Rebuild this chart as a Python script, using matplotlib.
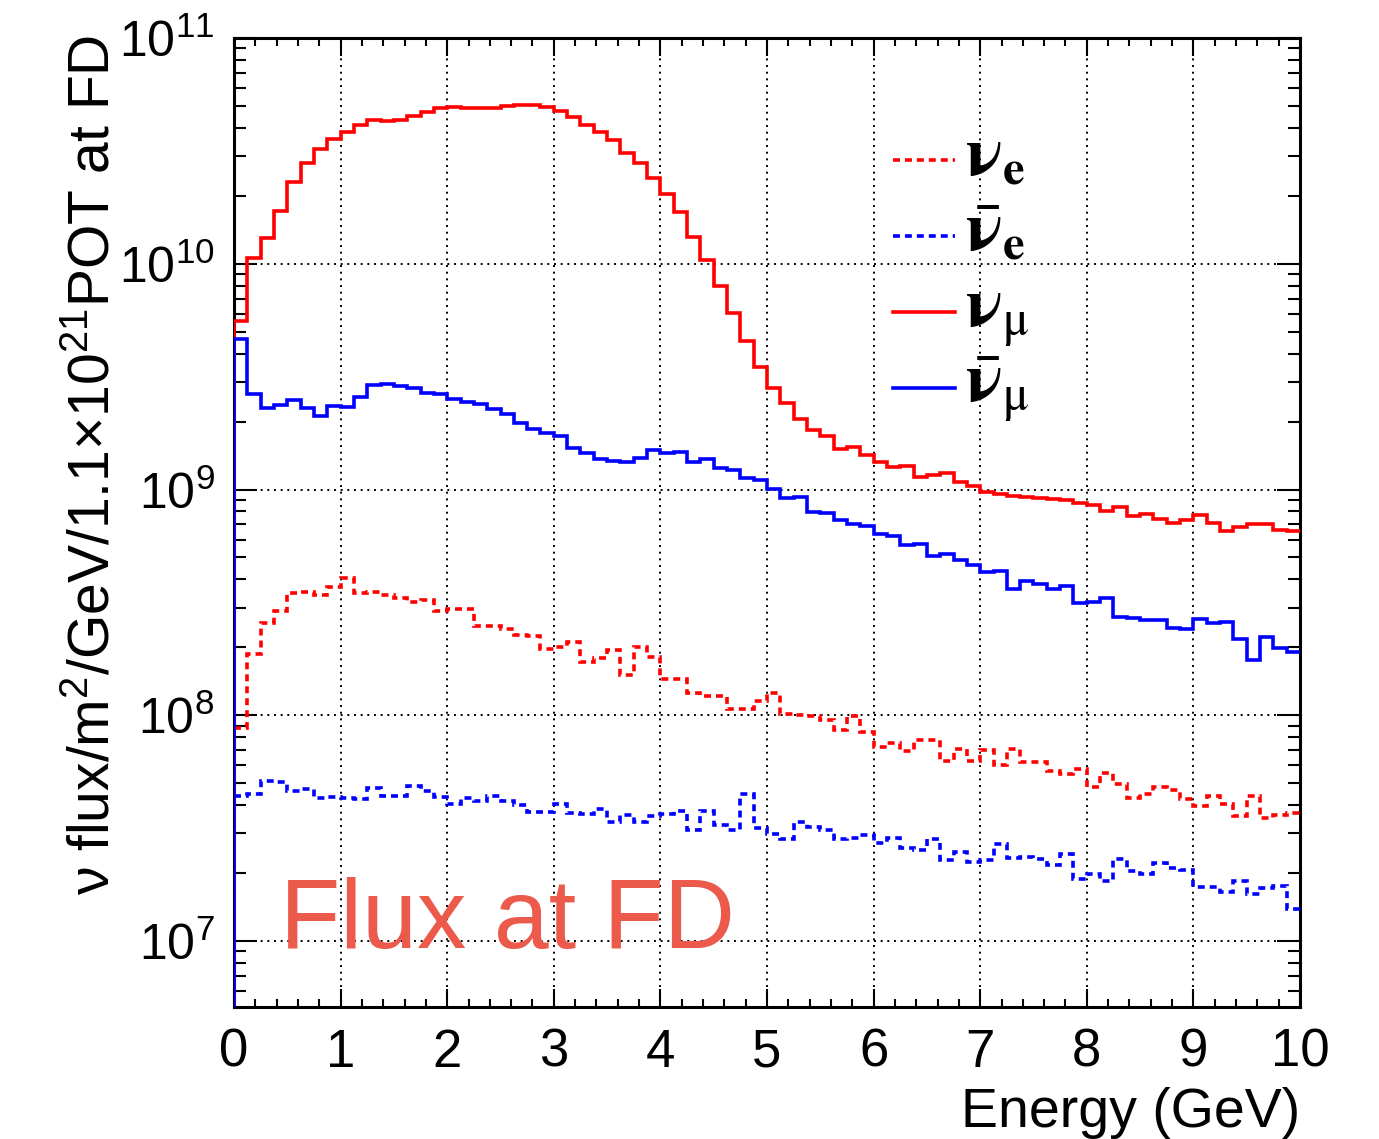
import numpy as np
import matplotlib
matplotlib.use('Agg')
import matplotlib.pyplot as plt
from matplotlib.lines import Line2D
from matplotlib.ticker import LogLocator, MultipleLocator, LogFormatterMathtext, NullFormatter

plt.rcParams['font.family'] = ['Liberation Sans', 'DejaVu Sans']
plt.rcParams['mathtext.fontset'] = 'custom'
plt.rcParams['mathtext.rm'] = 'Liberation Sans'
plt.rcParams['mathtext.it'] = 'Liberation Sans:italic'
plt.rcParams['mathtext.bf'] = 'Liberation Sans:bold'
plt.rcParams['lines.scale_dashes'] = False

# 80 bins of 0.125 GeV from 0 to 10 GeV
edges = np.linspace(0, 10, 81)

numu = [5.55e9, 1.06e10, 1.30e10, 1.71e10, 2.30e10, 2.79e10, 3.22e10, 3.57e10,
        3.82e10, 4.13e10, 4.33e10, 4.29e10, 4.32e10, 4.50e10, 4.68e10, 4.88e10,
        4.94e10, 4.91e10, 4.88e10, 4.91e10, 4.99e10, 5.04e10, 5.04e10, 4.94e10,
        4.76e10, 4.47e10, 4.13e10, 3.82e10, 3.54e10, 3.11e10, 2.79e10, 2.40e10,
        2.03e10, 1.69e10, 1.31e10, 1.04e10, 8.0e9, 6.05e9, 4.53e9, 3.48e9,
        2.83e9, 2.42e9, 2.06e9, 1.84e9, 1.72e9, 1.51e9, 1.55e9, 1.42e9,
        1.32e9, 1.26e9, 1.27e9, 1.14e9, 1.16e9, 1.18e9, 1.08e9, 1.04e9,
        9.77e8, 9.58e8, 9.4e8, 9.3e8, 9.2e8, 9.1e8, 9.0e8, 8.7e8,
        8.5e8, 8.0e8, 8.4e8, 7.64e8, 7.76e8, 7.4e8, 7.1e8, 7.3e8,
        7.74e8, 7.1e8, 6.58e8, 6.8e8, 7.0e8, 7.06e8, 6.6e8, 6.54e8]

anumu = [4.66e9, 2.66e9, 2.30e9, 2.36e9, 2.48e9, 2.30e9, 2.11e9, 2.35e9,
         2.32e9, 2.58e9, 2.89e9, 2.94e9, 2.87e9, 2.82e9, 2.69e9, 2.66e9,
         2.52e9, 2.45e9, 2.39e9, 2.28e9, 2.16e9, 1.97e9, 1.85e9, 1.78e9,
         1.72e9, 1.52e9, 1.45e9, 1.36e9, 1.34e9, 1.32e9, 1.38e9, 1.50e9,
         1.45e9, 1.46e9, 1.33e9, 1.36e9, 1.24e9, 1.22e9, 1.12e9, 1.10e9,
         1.01e9, 9.16e8, 9.3e8, 7.96e8, 7.9e8, 7.3e8, 7.0e8, 6.9e8,
         6.37e8, 6.25e8, 5.67e8, 5.72e8, 5.07e8, 5.2e8, 4.85e8, 4.64e8,
         4.3e8, 4.36e8, 3.64e8, 3.95e8, 3.82e8, 3.62e8, 3.72e8, 3.14e8,
         3.16e8, 3.3e8, 2.73e8, 2.7e8, 2.63e8, 2.65e8, 2.44e8, 2.4e8,
         2.68e8, 2.56e8, 2.6e8, 2.17e8, 1.76e8, 2.22e8, 1.98e8, 1.9e8]

nue = [8.77e7, 1.87e8, 2.56e8, 2.91e8, 3.48e8, 3.50e8, 3.40e8, 3.70e8,
       4.05e8, 3.48e8, 3.50e8, 3.42e8, 3.29e8, 3.19e8, 3.23e8, 2.90e8,
       2.95e8, 2.97e8, 2.49e8, 2.49e8, 2.41e8, 2.26e8, 2.25e8, 1.96e8,
       2.00e8, 2.11e8, 1.73e8, 1.79e8, 1.94e8, 1.50e8, 2.00e8, 1.81e8,
       1.44e8, 1.45e8, 1.26e8, 1.22e8, 1.22e8, 1.07e8, 1.07e8, 1.16e8,
       1.25e8, 1.01e8, 1.00e8, 9.9e7, 9.5e7, 8.56e7, 9.9e7, 8.4e7,
       7.26e7, 7.5e7, 6.95e7, 7.73e7, 7.76e7, 6.3e7, 7.1e7, 6.3e7,
       7.0e7, 6.0e7, 7.1e7, 6.2e7, 6.2e7, 5.69e7, 5.5e7, 5.76e7,
       4.8e7, 5.55e7, 4.98e7, 4.28e7, 4.46e7, 4.8e7, 4.66e7, 4.27e7,
       3.98e7, 4.4e7, 4.05e7, 3.56e7, 4.4e7, 3.5e7, 3.6e7, 3.7e7]

anue = [4.41e7, 4.47e7, 5.12e7, 5.05e7, 4.60e7, 4.73e7, 4.30e7, 4.33e7,
        4.30e7, 4.25e7, 4.75e7, 4.41e7, 4.40e7, 4.85e7, 4.64e7, 4.33e7,
        4.05e7, 4.32e7, 4.17e7, 4.40e7, 4.17e7, 4.00e7, 3.74e7, 3.72e7,
        4.03e7, 3.70e7, 3.65e7, 3.85e7, 3.35e7, 3.60e7, 3.38e7, 3.57e7,
        3.66e7, 3.76e7, 3.10e7, 3.76e7, 3.27e7, 3.10e7, 4.49e7, 3.15e7,
        2.97e7, 2.83e7, 3.35e7, 3.20e7, 3.10e7, 2.83e7, 2.86e7, 2.94e7,
        2.73e7, 2.87e7, 2.57e7, 2.52e7, 2.83e7, 2.29e7, 2.48e7, 2.24e7,
        2.29e7, 2.69e7, 2.32e7, 2.36e7, 2.31e7, 2.17e7, 2.43e7, 1.88e7,
        1.99e7, 1.85e7, 2.31e7, 2.05e7, 1.99e7, 2.22e7, 2.10e7, 2.07e7,
        1.73e7, 1.73e7, 1.64e7, 1.84e7, 1.62e7, 1.71e7, 1.76e7, 1.39e7]

labels = [r'$\mathbf{ν}_{\mathbf{e}}$', r'$\bar{\mathbf{ν}}_{\mathbf{e}}$',
          r'$\mathbf{ν}_{\mathrm{μ}}$', r'$\bar{\mathbf{ν}}_{\mathrm{μ}}$']

fig = plt.figure(figsize=(13.79, 11.39), dpi=100)
ax = fig.add_axes([0.1697, 0.1159, 0.7730, 0.8507])

dash = (0, (5, 3.6))
base = 1e5


def hist(values, color, ls):
    # step outline, rising from below the frame at the first bin edge
    ax.vlines(edges[0], base, values[0], color=color, lw=2.6, ls=ls, zorder=3)
    return ax.stairs(values, edges, baseline=None, color=color, lw=2.6, ls=ls,
                     zorder=3)


styles = [('red', dash), ('blue', dash), ('red', '-'), ('blue', '-')]
for vals, (c, ls) in zip([nue, anue, numu, anumu], styles):
    hist(vals, c, ls)

ax.set_yscale('log')
ax.set_xlim(0, 10)
ax.set_ylim(5.1e6, 1e11)

ax.xaxis.set_major_locator(MultipleLocator(1))
ax.xaxis.set_minor_locator(MultipleLocator(0.2))
ax.yaxis.set_major_locator(LogLocator(base=10, numticks=20))
ax.yaxis.set_major_formatter(LogFormatterMathtext())
ax.yaxis.set_minor_locator(LogLocator(base=10, subs=np.arange(2, 10), numticks=20))
ax.yaxis.set_minor_formatter(NullFormatter())

ax.tick_params(which='both', direction='in', top=True, right=True, width=1.5)
ax.tick_params(axis='x', which='major', length=13, pad=15, labelsize=38)
ax.tick_params(axis='x', which='minor', length=6)
ax.tick_params(axis='y', which='major', length=16.5, pad=14, labelsize=36)
ax.tick_params(axis='y', which='minor', length=8.6)
ax.grid(True, which='major', color='black', ls=(0, (1.4, 3.4)), lw=1.4)
for s in ax.spines.values():
    s.set_linewidth(2.2)

# legend: key lines and labels placed in figure pixels
W, H = 1379, 1139
for i, (lab, (c, ls)) in enumerate(zip(labels, styles)):
    yk = 160 + 76 * i
    fig.add_artist(Line2D([893 / W, 955 / W], [1 - yk / H, 1 - yk / H],
                          color=c, lw=2.6, ls=ls))
    fig.text(965 / W, 1 - (yk + 15) / H, lab, fontsize=50, va='baseline',
             math_fontfamily='stix')

fig.text(95 / W, 1 - 35 / H,
         r'ν flux/m$^{2}$/GeV/1.1$\times$10$^{21}$POT at FD',
         rotation=90, ha='center', va='top', fontsize=41)
fig.text(1300 / W, 1 - 1127 / H, 'Energy (GeV)', ha='right',
         va='baseline', fontsize=40)
fig.text(280 / W, 1 - 948 / H, 'Flux at FD', color='#EB5A4B',
         fontsize=71, va='baseline')

fig.savefig('out.png', dpi=100)
